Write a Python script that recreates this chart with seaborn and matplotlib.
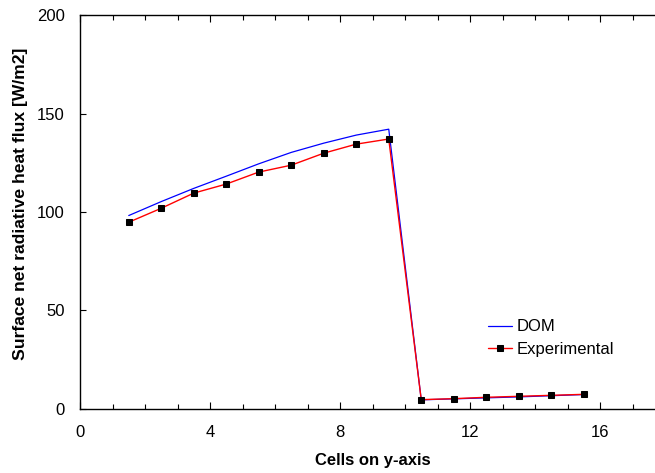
import numpy as np
import pandas as pd
import matplotlib
matplotlib.use("Agg")
import matplotlib.pyplot as plt
import seaborn as sns
from matplotlib.ticker import MultipleLocator

# cell centres and heat flux values
cells = [1.5, 2.5, 3.5, 4.5, 5.5, 6.5, 7.5, 8.5, 9.5, 10.5, 11.5, 12.5, 13.5, 14.5, 15.5]
dom = [98.2, 105.3, 112.0, 118.2, 124.5, 130.3, 135.0, 139.1, 142.1, 4.5, 5.0, 5.5, 6.0, 6.6, 7.2]
experimental = [94.8, 101.9, 109.6, 114.2, 120.3, 123.8, 129.9, 134.5, 137.1, 4.6, 5.1, 5.8, 6.3, 6.8, 7.3]

df = pd.DataFrame({"cell": cells, "DOM": dom, "Experimental": experimental})

sns.set_style("ticks")
plt.rcParams["font.family"] = ["Liberation Sans", "DejaVu Sans"]
plt.rcParams["text.color"] = "black"
plt.rcParams["axes.labelcolor"] = "black"
plt.rcParams["xtick.color"] = "black"
plt.rcParams["ytick.color"] = "black"

fig = plt.figure(figsize=(6.55, 4.73), dpi=100)
ax = fig.add_axes([80 / 655, 1 - 408.7 / 473, 1 - 80 / 655, 393.4 / 473])

sns.lineplot(data=df, x="cell", y="DOM", ax=ax, color="blue", lw=0.9, label="DOM")
sns.lineplot(data=df, x="cell", y="Experimental", ax=ax, color="red", lw=1.0,
             marker="s", markersize=4.5, markerfacecolor="black", markeredgecolor="black",
             label="Experimental")

xmax = 575 / 32.5
ax.set_xlim(0, xmax)
ax.set_ylim(0, 200)
ax.xaxis.set_major_locator(MultipleLocator(4))
ax.xaxis.set_minor_locator(MultipleLocator(1))
ax.yaxis.set_major_locator(MultipleLocator(50))
ax.tick_params(axis="x", which="both", direction="in", top=True, labelsize=12, pad=12, width=0.8)
ax.tick_params(axis="x", which="major", length=5)
ax.tick_params(axis="x", which="minor", length=3.5)
ax.tick_params(axis="y", direction="in", length=4, labelsize=12, pad=11, width=0.8)
ax.spines["right"].set_visible(False)
for s in ["left", "bottom", "top"]:
    ax.spines[s].set_linewidth(1.0)
    ax.spines[s].set_color("black")

ax.set_xlabel("Cells on y-axis", fontsize=12, fontweight="bold")
ax.set_ylabel("Surface net radiative heat flux [W/m2]", fontsize=12.6, fontweight="bold")
ax.xaxis.set_label_coords(9 / xmax, -0.112)
ax.yaxis.set_label_coords(-0.09, 0.52)

ax.legend(loc="upper left", bbox_to_anchor=(0.684, 0.265), frameon=False, fontsize=12,
          handlelength=1.4, handletextpad=0.3, labelspacing=0.45)

fig.savefig("out.png", dpi=100)
